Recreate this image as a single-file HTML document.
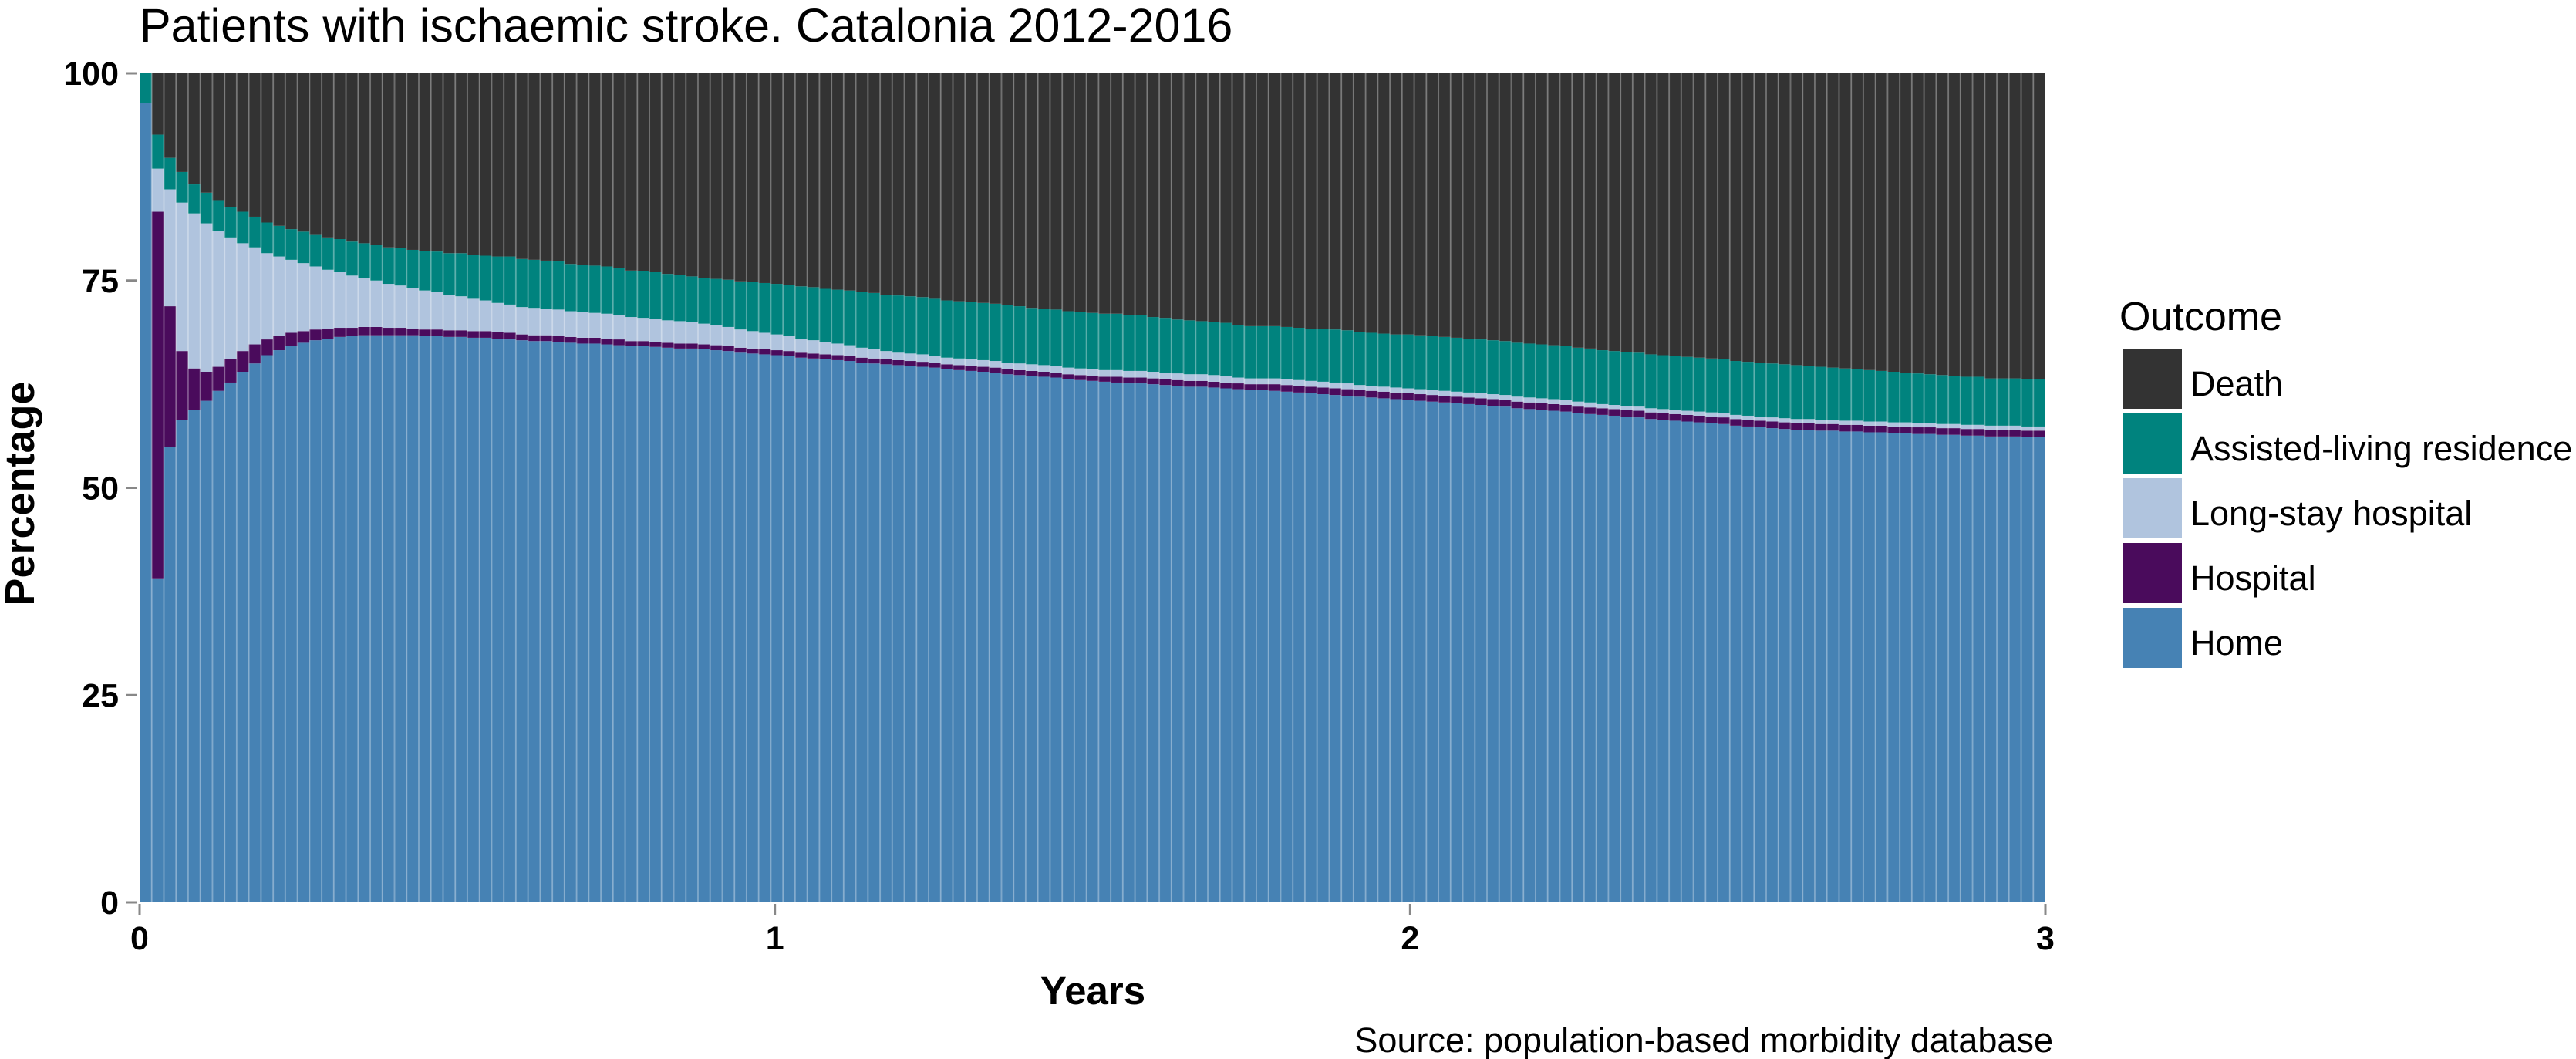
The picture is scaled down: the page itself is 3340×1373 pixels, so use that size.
<!DOCTYPE html>
<html><head><meta charset="utf-8">
<style>
html,body{margin:0;padding:0;background:#fff;}
svg{display:block;font-family:"Liberation Sans",sans-serif;}
</style></head>
<body>
<svg id="chart" width="3340" height="1373" viewBox="0 0 3340 1373" xmlns="http://www.w3.org/2000/svg">
  <text x="181" y="54" font-size="61" fill="#000">Patients with ischaemic stroke. Catalonia 2012-2016</text>
  <g id="plot"></g>
  <g id="yaxis"></g>
  <g id="xaxis"></g>
  <text x="0" y="0" transform="translate(44,640) rotate(-90)" text-anchor="middle" font-size="54" font-weight="bold">Percentage</text>
  <text x="1417" y="1302" text-anchor="middle" font-size="51" font-weight="bold">Years</text>
  <text x="2662" y="1364" text-anchor="end" font-size="45">Source: population-based morbidity database</text>
  <g id="legend">
    <text x="2748" y="428" font-size="52">Outcome</text>
  </g>
</svg>
<script>
const seriesNames = ["Home","Hospital","Long-stay hospital","Assisted-living residence","Death"];
const seriesColors = ["#4682b4","#4a0b5c","#b0c4de","#00837e","#333333"];
const yTicks = [0,25,50,75,100];
const xTicks = [0,1,2,3];
const home = [
96.4,39,54.9,58.2,59.4,60.5,61.7,62.7,64,65,
66,66.6,67.1,67.5,67.8,68,68.2,68.3,68.4,68.4,
68.4,68.4,68.4,68.3,68.3,68.2,68.2,68.1,68.1,68,
67.9,67.8,67.7,67.7,67.6,67.5,67.4,67.4,67.3,67.2,
67.1,67.1,67,66.9,66.8,66.8,66.7,66.6,66.5,66.3,
66.2,66.1,66,65.9,65.7,65.6,65.5,65.4,65.3,65.1,
65,64.9,64.8,64.7,64.6,64.5,64.3,64.2,64.1,64,
63.9,63.7,63.6,63.5,63.4,63.3,63.1,63,62.9,62.8,
62.7,62.6,62.6,62.5,62.4,62.3,62.2,62.2,62.1,62,
61.9,61.8,61.8,61.7,61.6,61.5,61.4,61.3,61.2,61.1,
61,60.9,60.8,60.7,60.6,60.5,60.4,60.3,60.2,60.1,
60,59.9,59.8,59.6,59.5,59.4,59.3,59.2,59,58.9,
58.8,58.7,58.6,58.5,58.3,58.2,58.1,58,57.9,57.8,
57.7,57.5,57.4,57.3,57.2,57.1,57,57,56.9,56.9,
56.8,56.8,56.7,56.7,56.6,56.6,56.5,56.5,56.4,56.4,
56.3,56.3,56.2,56.2,56.2,56.1,56.1];
const hospital = [
0,44.3,17,8.3,5,3.5,2.9,2.8,2.5,2.3,
1.9,1.7,1.6,1.4,1.3,1.2,1.1,1,1,1,
0.9,0.9,0.8,0.8,0.8,0.8,0.8,0.8,0.8,0.8,
0.8,0.7,0.7,0.7,0.7,0.7,0.7,0.7,0.7,0.7,
0.6,0.6,0.6,0.6,0.6,0.6,0.6,0.6,0.6,0.6,
0.6,0.6,0.6,0.6,0.6,0.6,0.6,0.6,0.6,0.6,
0.6,0.6,0.6,0.6,0.6,0.6,0.6,0.6,0.6,0.6,
0.6,0.6,0.6,0.6,0.6,0.6,0.6,0.6,0.6,0.6,
0.7,0.7,0.7,0.7,0.7,0.7,0.7,0.7,0.7,0.7,
0.7,0.7,0.7,0.8,0.8,0.8,0.8,0.8,0.8,0.8,
0.8,0.8,0.8,0.8,0.8,0.8,0.8,0.8,0.8,0.8,
0.8,0.8,0.8,0.8,0.8,0.8,0.8,0.8,0.8,0.8,
0.8,0.8,0.8,0.8,0.8,0.8,0.8,0.8,0.8,0.8,
0.8,0.8,0.8,0.8,0.8,0.8,0.8,0.8,0.8,0.8,
0.8,0.8,0.8,0.8,0.8,0.8,0.8,0.8,0.8,0.8,
0.8,0.8,0.8,0.8,0.8,0.8,0.8];
const longStay = [
0,5.2,14.1,17.9,18.7,17.9,16.4,14.7,13,11.7,
10.4,9.6,8.8,8.2,7.6,7.1,6.7,6.3,5.9,5.6,
5.3,5.1,4.9,4.7,4.5,4.3,4.1,3.9,3.7,3.5,
3.4,3.3,3.3,3.2,3.2,3.1,3.1,3,3,2.9,
2.9,2.8,2.8,2.7,2.7,2.6,2.5,2.4,2.3,2.2,
2.1,2,1.9,1.8,1.7,1.6,1.5,1.4,1.3,1.2,
1.1,1,0.9,0.9,0.9,0.8,0.8,0.8,0.8,0.8,
0.8,0.8,0.8,0.8,0.8,0.8,0.8,0.8,0.8,0.8,
0.8,0.8,0.8,0.8,0.8,0.8,0.8,0.8,0.8,0.8,
0.7,0.7,0.7,0.7,0.7,0.7,0.7,0.7,0.7,0.7,
0.6,0.6,0.6,0.6,0.6,0.6,0.6,0.6,0.6,0.6,
0.6,0.6,0.6,0.6,0.6,0.6,0.6,0.6,0.6,0.6,
0.5,0.5,0.5,0.5,0.5,0.5,0.5,0.5,0.5,0.5,
0.5,0.5,0.5,0.5,0.5,0.5,0.5,0.5,0.5,0.5,
0.5,0.5,0.5,0.5,0.5,0.5,0.5,0.5,0.5,0.5,
0.5,0.5,0.5,0.5,0.5,0.5,0.5];
const assisted = [
3.6,4.1,3.8,3.7,3.5,3.7,3.7,3.7,3.8,3.7,
3.7,3.7,3.7,3.8,3.8,3.9,4,4.1,4.2,4.3,
4.4,4.5,4.6,4.8,4.9,5,5.2,5.3,5.4,5.6,
5.8,5.8,5.8,5.8,5.8,5.7,5.7,5.7,5.7,5.7,
5.6,5.6,5.6,5.6,5.6,5.5,5.5,5.6,5.7,5.8,
5.9,6,6.1,6.2,6.3,6.4,6.4,6.5,6.6,6.7,
6.8,6.8,6.9,6.9,6.9,6.9,6.9,6.9,6.9,6.9,
6.9,6.9,6.9,6.8,6.8,6.8,6.8,6.8,6.8,6.8,
6.8,6.7,6.7,6.6,6.6,6.5,6.5,6.4,6.4,6.4,
6.3,6.3,6.3,6.3,6.3,6.3,6.3,6.4,6.4,6.4,
6.4,6.4,6.4,6.4,6.5,6.5,6.5,6.5,6.5,6.5,
6.5,6.5,6.5,6.5,6.5,6.5,6.5,6.5,6.5,6.5,
6.5,6.5,6.5,6.5,6.5,6.5,6.5,6.5,6.5,6.5,
6.5,6.5,6.5,6.5,6.5,6.5,6.5,6.4,6.4,6.3,
6.3,6.2,6.2,6.1,6.1,6,6,5.9,5.9,5.8,
5.8,5.8,5.7,5.7,5.7,5.7,5.7];

const NS = "http://www.w3.org/2000/svg";
const X0 = 181, X1 = 2652, Y0 = 1170, Y100 = 95;
const xMax = 3;
function xScale(v){ return X0 + (v / xMax) * (X1 - X0); }
function yScale(v){ return Y0 - (v / 100) * (Y0 - Y100); }

const n = home.length;
const step = (X1 - X0) / n;
const plot = document.getElementById('plot');
for (let i = 0; i < n; i++) {
  const vals = [home[i], hospital[i], longStay[i], assisted[i]];
  let sum = vals.reduce((a,b)=>a+b,0);
  vals.push(Math.max(0, 100 - sum));
  let base = 0;
  const bx = X0 + i * step;
  for (let s = 0; s < 5; s++) {
    const v = vals[s];
    if (v <= 0) { continue; }
    const r = document.createElementNS(NS, 'rect');
    
    
    r.setAttribute('x', bx);
    r.setAttribute('width', step);
    r.setAttribute('y', yScale(base + v));
    r.setAttribute('height', yScale(base) - yScale(base + v));
    r.setAttribute('fill', seriesColors[s]);
    plot.appendChild(r);
    base += v;
  }
  if (i > 0) {
    const g = document.createElementNS(NS, 'rect');
    
    
    g.setAttribute('x', bx - 1);
    g.setAttribute('width', 2);
    g.setAttribute('y', Y100);
    g.setAttribute('height', Y0 - Y100);
    g.setAttribute('fill', 'rgba(255,255,255,0.28)');
    plot.appendChild(g);
  }
}

const yaxis = document.getElementById('yaxis');
yTicks.forEach(t => {
  const y = yScale(t);
  const l = document.createElementNS(NS, 'line');
  
  
  l.setAttribute('x1', 164); l.setAttribute('x2', 178);
  l.setAttribute('y1', y); l.setAttribute('y2', y);
  l.setAttribute('stroke', '#888'); l.setAttribute('stroke-width', 3);
  yaxis.appendChild(l);
  const tx = document.createElementNS(NS, 'text');
  
  
  tx.setAttribute('x', 154); tx.setAttribute('y', y + 15);
  tx.setAttribute('text-anchor', 'end');
  tx.setAttribute('font-size', '43'); tx.setAttribute('font-weight', 'bold');
  tx.textContent = t;
  yaxis.appendChild(tx);
});
const xaxis = document.getElementById('xaxis');
xTicks.forEach(t => {
  const x = xScale(t);
  const l = document.createElementNS(NS, 'line');
  
  
  l.setAttribute('x1', x); l.setAttribute('x2', x);
  l.setAttribute('y1', 1172); l.setAttribute('y2', 1186);
  l.setAttribute('stroke', '#888'); l.setAttribute('stroke-width', 3);
  xaxis.appendChild(l);
  const tx = document.createElementNS(NS, 'text');
  
  
  tx.setAttribute('x', x); tx.setAttribute('y', 1231);
  tx.setAttribute('text-anchor', 'middle');
  tx.setAttribute('font-size', '43'); tx.setAttribute('font-weight', 'bold');
  tx.textContent = t;
  xaxis.appendChild(tx);
});

const legend = document.getElementById('legend');
const legendOrder = [4,3,2,1,0];
legendOrder.forEach((s, i) => {
  const y = 452 + i * 84;
  const r = document.createElementNS(NS, 'rect');
  
  
  r.setAttribute('x', 2752); r.setAttribute('y', y);
  r.setAttribute('width', 77); r.setAttribute('height', 78);
  r.setAttribute('fill', seriesColors[s]);
  legend.appendChild(r);
  const tx = document.createElementNS(NS, 'text');
  
  
  tx.setAttribute('x', 2840); tx.setAttribute('y', y + 61);
  tx.setAttribute('font-size', '45');
  tx.textContent = seriesNames[s];
  legend.appendChild(tx);
});
</script>
</body></html>
